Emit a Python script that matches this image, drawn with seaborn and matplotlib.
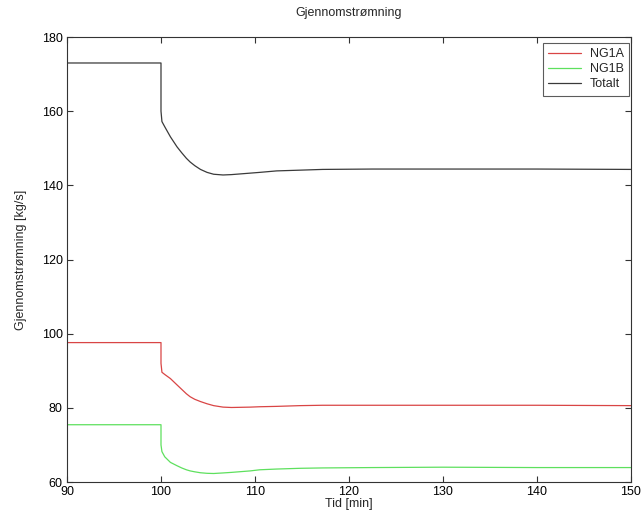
import numpy as np
import pandas as pd
import matplotlib
matplotlib.use("Agg")
import matplotlib.pyplot as plt
import seaborn as sns

# Time axis [min] and flow per stream [kg/s]
tid = [90, 100, 100, 100.1, 100.4, 101, 101.7, 102.2, 102.7, 103.1, 103.6, 104.2, 104.9, 105.6,
       106.6, 107.5, 109.5, 110.5, 112.3, 114.8, 117.2, 122.5, 130, 140, 150]
ng1a = [97.6, 97.6, 92.0, 89.6, 89.0, 87.9, 86.2, 85.0, 83.8, 83.0, 82.3, 81.7, 81.1, 80.6,
        80.2, 80.1, 80.2, 80.3, 80.4, 80.6, 80.7, 80.7, 80.7, 80.7, 80.6]
ng1b = [75.45, 75.45, 70.0, 68.2, 66.8, 65.3, 64.4, 63.8, 63.3, 63.0, 62.75, 62.5, 62.35, 62.3,
        62.45, 62.6, 63.0, 63.3, 63.5, 63.7, 63.8, 63.9, 64.0, 63.9, 63.9]
totalt = [173.0, 173.0, 160.0, 157.2, 155.8, 153.1, 150.4, 148.8, 147.3, 146.3, 145.3, 144.3,
          143.5, 143.0, 142.8, 142.9, 143.3, 143.5, 143.9, 144.1, 144.3, 144.4, 144.4, 144.4, 144.3]

series_names = ["NG1A", "NG1B", "Totalt"]
colors = ["#d94545", "#5ee05e", "#3a3a3a"]

df = pd.concat([
    pd.DataFrame({"Tid": tid, "Flow": vals, "Serie": name})
    for name, vals in zip(series_names, [ng1a, ng1b, totalt])
], ignore_index=True)

sns.set_theme(style="white")
plt.rcParams["font.family"] = ["Liberation Sans", "DejaVu Sans"]

fig = plt.figure(figsize=(6.43, 5.29), dpi=100)
ax = fig.add_axes([0.1042, 0.0888, 0.8771, 0.8412])

sns.lineplot(data=df, x="Tid", y="Flow", hue="Serie", palette=colors,
             estimator=None, sort=False, units="Serie", linewidth=0.9, ax=ax)

ax.set_xlim(90, 150)
ax.set_ylim(60, 180)
ax.set_xticks(np.arange(90, 151, 10))
ax.set_yticks(np.arange(60, 181, 20))
ax.tick_params(direction="in", length=4, width=0.8, color="#333333",
               labelsize=9, labelcolor="black", top=True, right=True,
               bottom=True, left=True, pad=3)
for sp in ax.spines.values():
    sp.set_visible(True)
    sp.set_color("#333333")
    sp.set_linewidth(0.8)

ax.set_title("Gjennomstrømning", fontsize=9, pad=15)
ax.set_xlabel("Tid [min]", fontsize=9, labelpad=0)
ax.set_ylabel("Gjennomstrømning [kg/s]", fontsize=9, labelpad=11)

leg = ax.legend(loc="upper right", bbox_to_anchor=(0.997, 0.987), fontsize=9,
                frameon=True, fancybox=False, handlelength=2.6, borderpad=0.45,
                labelspacing=0.22, handletextpad=0.7, borderaxespad=0)
leg.get_frame().set_edgecolor("#333333")
leg.get_frame().set_linewidth(0.8)
for line in leg.get_lines():
    line.set_linewidth(0.9)

fig.savefig("out.png", dpi=100, facecolor="white")
